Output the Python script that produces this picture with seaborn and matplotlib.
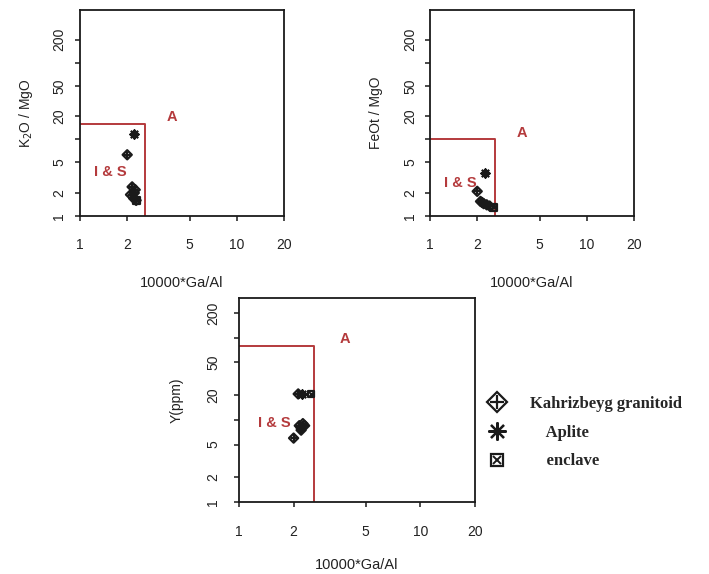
import matplotlib
matplotlib.use("Agg")
import matplotlib.pyplot as plt
import seaborn as sns
import pandas as pd
from matplotlib.lines import Line2D
from matplotlib.legend_handler import HandlerTuple

# ---------------- data ----------------
# Panel 1: K2O/MgO vs 10000*Ga/Al
p1_gran_x = [2.0, 2.1, 2.15, 2.2, 2.22, 2.25, 2.28]
p1_gran_y = [6.3, 1.9, 2.4, 1.7, 2.0, 2.2, 1.6]
p1_apl_x = [2.2]
p1_apl_y = [11.8]
p1_encl_x = [2.3]
p1_encl_y = [1.6]

# Panel 2: FeOt/MgO vs 10000*Ga/Al
p2_gran_x = [2.0, 2.1, 2.15, 2.2, 2.3, 2.4]
p2_gran_y = [2.1, 1.55, 1.5, 1.45, 1.4, 1.35]
p2_apl_x = [2.25]
p2_apl_y = [3.6]
p2_encl_x = [2.55]
p2_encl_y = [1.3]

# Panel 3: Y(ppm) vs 10000*Ga/Al
p3_gran_x = [2.0, 2.15, 2.2, 2.25, 2.3, 2.2, 2.12]
p3_gran_y = [6.0, 8.5, 8.0, 9.0, 8.5, 7.5, 20.7]
p3_apl_x = [2.22]
p3_apl_y = [20.7]
p3_encl_x = [2.5]
p3_encl_y = [20.7]

# Whalen et al. field boundaries
ga_al_limit = 2.6
y_limits = [16, 10, 80]

x_ticks = [1, 2, 5, 10, 20]
y_ticks = [1, 2, 5, 10, 20, 50, 100, 200]
y_tick_labels = ["1", "2", "5", "", "20", "50", "", "200"]

y_labels = ["K$_2$O / MgO", "FeOt / MgO", "Y(ppm)"]
x_label = "10000*Ga/Al"
legend_labels = ["Kahrizbeyg granitoid", "    Aplite", "    enclave"]

# ---------------- style ----------------
sns.set_theme(style="white")
plt.rcParams["font.family"] = ["Liberation Sans", "DejaVu Sans"]

W, H = 709, 574
fig = plt.figure(figsize=(W / 100, H / 100), dpi=100)

def ax_at(l, t, r, b):
    return fig.add_axes([l / W, 1 - b / H, (r - l) / W, (b - t) / H])

axes = [ax_at(80, 10, 284, 216), ax_at(430, 10, 634, 216), ax_at(239, 298, 475, 502)]
ymaxes = [490, 490, 305]
ytick_pads = [6.5, 5.5, 10]
ylabel_pads = [12, 15, 16.5]
is_xy = [3.7, 2.7, 9.2]

panels = [
    (p1_gran_x, p1_gran_y, p1_apl_x, p1_apl_y, p1_encl_x, p1_encl_y),
    (p2_gran_x, p2_gran_y, p2_apl_x, p2_apl_y, p2_encl_x, p2_encl_y),
    (p3_gran_x, p3_gran_y, p3_apl_x, p3_apl_y, p3_encl_x, p3_encl_y),
]
red = "#b43a3c"
txt = "#222222"
asterisk = (8, 2, 0)

for i, (ax, data) in enumerate(zip(axes, panels)):
    gx, gy, ax_, ay, ex, ey = data
    ax.set_xscale("log")
    ax.set_yscale("log")
    ax.set_xlim(1, 20)
    ax.set_ylim(1, ymaxes[i])

    # field boundary
    lim = y_limits[i]
    ax.plot([1, ga_al_limit, ga_al_limit], [lim, lim, 1], color=red, lw=1.4, zorder=2)

    dg = pd.DataFrame({"x": gx, "y": gy})
    da = pd.DataFrame({"x": ax_, "y": ay})
    de = pd.DataFrame({"x": ex, "y": ey})
    sns.scatterplot(data=dg, x="x", y="y", ax=ax, marker="D", s=22,
                    facecolor="none", edgecolor="k", linewidth=1.6, zorder=3)
    sns.scatterplot(data=dg, x="x", y="y", ax=ax, marker="+", s=22,
                    color="k", linewidth=1.6, zorder=3)
    sns.scatterplot(data=da, x="x", y="y", ax=ax, marker=asterisk, s=34,
                    color="k", linewidth=1.6, zorder=3)
    sns.scatterplot(data=de, x="x", y="y", ax=ax, marker="s", s=22,
                    facecolor="none", edgecolor="k", linewidth=1.6, zorder=3)
    sns.scatterplot(data=de, x="x", y="y", ax=ax, marker="x", s=16,
                    color="k", linewidth=1.4, zorder=3)

    ax.text(3.85, lim * 1.22, "A", color=red, fontsize=10.5, fontweight="bold",
            ha="center", va="center")
    ax.text(1.56, is_xy[i], "I & S", color=red, fontsize=10.5,
            fontweight="bold", ha="center", va="center")

    ax.set_xticks(x_ticks)
    ax.set_xticklabels([str(t) for t in x_ticks])
    ax.set_yticks(y_ticks)
    ax.set_yticklabels(y_tick_labels)
    ax.minorticks_off()
    ax.tick_params(axis="both", which="major", direction="out", length=3.6,
                   width=1.1, color="k", labelsize=10, labelcolor=txt,
                   bottom=True, left=True, top=False, right=False)
    ax.tick_params(axis="x", pad=12.2 if i < 2 else 12.8)
    ax.tick_params(axis="y", pad=ytick_pads[i], labelrotation=90)
    for lab in ax.get_yticklabels():
        lab.set_verticalalignment("center")
    for s in ax.spines.values():
        s.set_visible(True)
        s.set_color("k")
        s.set_linewidth(1.3)
    ax.set_xlabel(x_label, fontsize=10.5, color=txt, labelpad=17 if i < 2 else 14)
    ax.set_ylabel(y_labels[i], fontsize=10, color=txt, labelpad=ylabel_pads[i])

# legend
h1 = (Line2D([], [], ls="none", marker="D", mfc="none", mec="k", ms=10, mew=1.6),
      Line2D([], [], ls="none", marker="+", color="k", ms=10, mew=1.6))
h2 = Line2D([], [], ls="none", marker=asterisk, color="k", ms=13, mew=1.6)
h3 = (Line2D([], [], ls="none", marker="s", mfc="none", mec="k", ms=9, mew=1.6),
      Line2D([], [], ls="none", marker="x", color="k", ms=6, mew=1.4))
fig.legend([h1, h2, h3], legend_labels,
           handler_map={tuple: HandlerTuple(ndivide=1, pad=0)},
           loc="upper left", bbox_to_anchor=(472 / W, 1 - 381 / H),
           frameon=False, handlelength=1.2, handletextpad=1.4, labelspacing=0.76,
           prop={"family": "Liberation Serif", "weight": "bold", "size": 12})

fig.savefig("out.png", dpi=100)
